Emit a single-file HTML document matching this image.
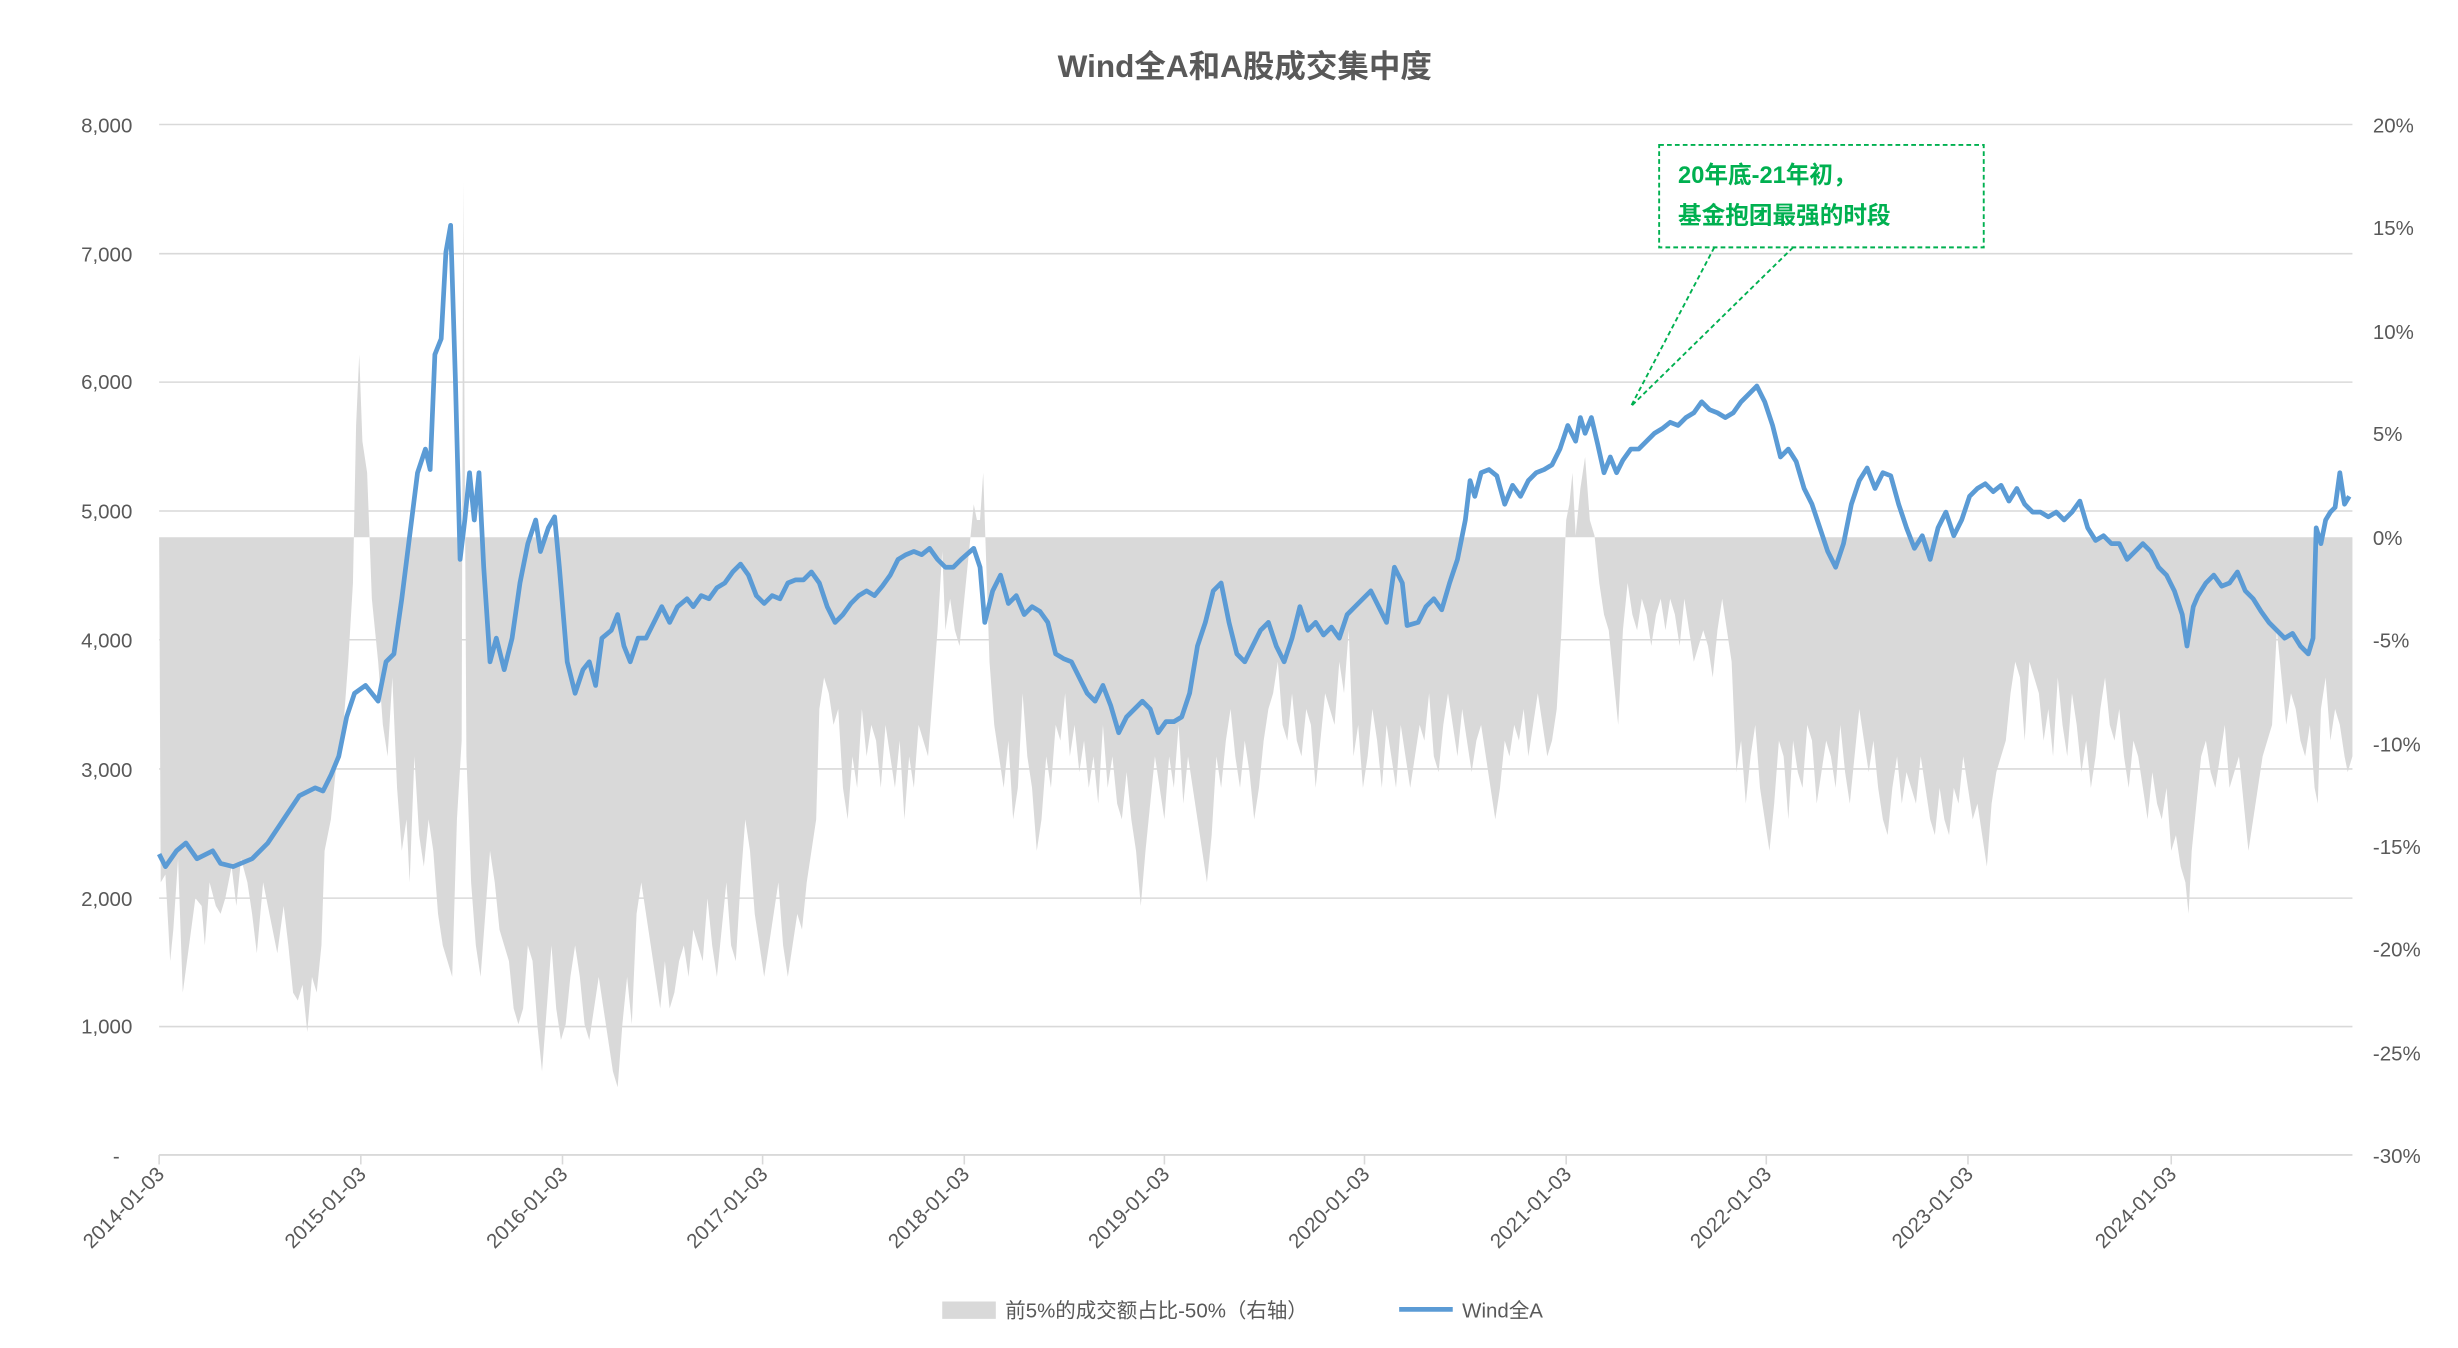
<!DOCTYPE html>
<html><head><meta charset="utf-8"><style>
html,body{margin:0;padding:0;background:#fff;}
svg{display:block;}
text{font-family:"Liberation Sans","Noto Sans CJK SC",sans-serif;}
</style></head><body>
<svg width="2458" height="1348" viewBox="0 0 1560 855.5" preserveAspectRatio="none" xmlns="http://www.w3.org/2000/svg">
<rect width="1560" height="855.5" fill="#fff"/>
<text x="790" y="49" text-anchor="middle" font-size="20" font-weight="bold" fill="#595959">Wind全A和A股成交集中度</text>
<g stroke="#d9d9d9" stroke-width="1">
<line x1="101" x2="1493" y1="79" y2="79"/><line x1="101" x2="1493" y1="161" y2="161"/>
<line x1="101" x2="1493" y1="242.5" y2="242.5"/><line x1="101" x2="1493" y1="324.3" y2="324.3"/>
<line x1="101" x2="1493" y1="406" y2="406"/><line x1="101" x2="1493" y1="488" y2="488"/>
<line x1="101" x2="1493" y1="570" y2="570"/><line x1="101" x2="1493" y1="651.5" y2="651.5"/>
</g>
<polygon fill="#d9d9d9" points="101,341 102,560 105,555 108,610 110,590 113,545 116,630 120,600 124,570 128,575 130,600 133,560 137,575 140,580 143,570 147,550 150,575 153,545 157,560 160,580 163,605 167,560 170,575 173,590 176,605 180,575 183,600 186,630 189,635 192,625 195,655 198,620 201,630 204,600 206,540 210,520 214,480 218,460 221,420 224,370 226,270 228,225 230,280 233,300 236,380 240,420 243,460 246,480 249,430 252,500 255,540 258,520 260,560 263,480 266,530 269,550 272,520 275,540 278,580 281,600 284,610 287,620 290,520 293,470 294,115 296,480 299,560 302,600 305,620 308,580 311,540 314,560 317,590 320,600 323,610 326,640 329,650 332,640 335,600 338,610 341,650 344,680 347,640 350,600 353,640 356,660 359,650 362,620 365,600 368,620 371,650 374,660 377,640 380,620 383,640 386,660 389,680 392,690 395,650 398,620 401,650 404,580 407,560 410,580 413,600 416,620 419,640 422,610 425,640 428,630 431,610 434,600 437,620 440,590 443,600 446,610 449,570 452,600 455,620 458,590 461,560 464,600 467,610 470,560 473,520 476,540 479,580 482,600 485,620 488,600 491,580 494,560 497,600 500,620 503,600 506,580 509,590 512,560 515,540 518,520 520,450 523,430 526,440 529,460 532,450 535,500 538,520 541,480 544,500 547,450 550,480 553,460 556,470 559,500 562,460 565,480 568,500 571,470 574,520 577,480 580,500 583,460 586,470 589,480 592,440 595,400 598,350 600,400 603,380 606,400 609,410 612,380 615,350 618,320 620,330 622,330 624,300 626,360 628,420 631,460 634,480 637,500 640,470 643,520 646,500 649,440 652,480 655,500 658,540 661,520 664,480 667,500 670,460 673,470 676,440 679,480 682,460 685,490 688,470 691,500 694,480 697,510 700,460 703,500 706,480 709,510 712,520 715,490 718,520 721,540 724,575 727,540 730,510 733,480 736,500 739,520 742,480 745,500 748,460 751,510 754,480 757,500 760,520 763,540 766,560 769,530 772,480 775,500 778,470 781,450 784,480 787,500 790,470 793,490 796,520 799,500 802,470 805,450 808,440 811,420 814,460 817,470 820,440 823,470 826,480 829,450 832,460 835,500 838,470 841,440 844,450 847,460 850,420 853,440 856,400 859,480 862,460 865,500 868,480 871,450 874,470 877,500 880,460 883,480 886,500 889,460 892,480 895,500 898,480 901,460 904,470 907,440 910,480 913,490 916,460 919,440 922,460 925,480 928,450 931,470 934,490 937,470 940,460 943,480 946,500 949,520 952,500 955,470 958,480 961,460 964,470 967,450 970,480 973,460 976,440 979,460 982,480 985,470 988,450 991,400 994,330 996,320 998,300 1000,340 1003,310 1006,290 1009,330 1012,340 1015,370 1018,390 1021,400 1024,430 1027,460 1030,400 1033,370 1036,390 1039,400 1042,380 1045,390 1048,410 1051,390 1054,380 1057,400 1060,380 1063,390 1066,410 1069,380 1072,400 1075,420 1078,410 1081,400 1084,410 1087,430 1090,400 1093,380 1096,400 1099,420 1102,490 1105,470 1108,510 1111,480 1114,460 1117,500 1120,520 1123,540 1126,510 1129,470 1132,480 1135,520 1138,470 1141,490 1144,500 1147,460 1150,470 1153,510 1156,490 1159,470 1162,480 1165,500 1168,460 1171,490 1174,510 1177,480 1180,450 1183,470 1186,490 1189,470 1192,500 1195,520 1198,530 1201,500 1204,480 1207,510 1210,490 1213,500 1216,510 1219,480 1222,500 1225,520 1228,530 1231,500 1234,520 1237,530 1240,500 1243,510 1246,480 1249,500 1252,520 1255,510 1258,530 1261,550 1264,510 1267,490 1270,480 1273,470 1276,440 1279,420 1282,430 1285,470 1288,420 1291,430 1294,440 1297,470 1300,450 1303,480 1306,430 1309,460 1312,480 1315,440 1318,460 1321,490 1324,470 1327,500 1330,480 1333,450 1336,430 1339,460 1342,470 1345,450 1348,480 1351,500 1354,470 1357,480 1360,500 1363,520 1366,490 1369,510 1372,520 1375,500 1378,540 1381,530 1384,550 1387,560 1389,580 1391,540 1394,510 1397,480 1400,470 1403,490 1406,500 1409,480 1412,460 1415,500 1418,490 1421,480 1424,510 1427,540 1430,520 1433,500 1436,480 1439,470 1442,460 1445,400 1448,430 1451,460 1454,440 1457,450 1460,470 1463,480 1466,460 1469,500 1471,510 1473,450 1476,430 1479,470 1482,450 1485,460 1488,480 1490,490 1493,480 1493,341"/>
<line x1="101" x2="1493" y1="733" y2="733" stroke="#d9d9d9" stroke-width="1.2"/>
<g stroke="#d9d9d9" stroke-width="1">
<line x1="101" x2="101" y1="733" y2="739"/><line x1="229" x2="229" y1="733" y2="739"/><line x1="357" x2="357" y1="733" y2="739"/><line x1="484" x2="484" y1="733" y2="739"/><line x1="612" x2="612" y1="733" y2="739"/><line x1="739" x2="739" y1="733" y2="739"/><line x1="866" x2="866" y1="733" y2="739"/><line x1="994" x2="994" y1="733" y2="739"/><line x1="1121" x2="1121" y1="733" y2="739"/><line x1="1249" x2="1249" y1="733" y2="739"/><line x1="1378" x2="1378" y1="733" y2="739"/>
</g>
<polyline fill="none" stroke="#5b9bd5" stroke-width="3" stroke-linejoin="round" points="101,542 105,550 112,540 118,535 125,545 135,540 140,548 148,550 160,545 170,535 180,520 190,505 200,500 205,502 210,492 215,480 220,455 225,440 232,435 240,445 245,420 250,415 255,380 260,340 265,300 270,285 273,298 276,225 280,215 283,160 286,143 289,240 292,355 295,330 298,300 301,330 304,300 307,360 311,420 315,405 320,425 325,405 330,370 335,345 340,330 343,350 348,335 352,328 355,360 360,420 365,440 370,425 374,420 378,435 382,405 388,400 392,390 396,410 400,420 405,405 410,405 415,395 420,385 425,395 430,385 436,380 440,385 445,378 450,380 455,373 460,370 465,363 470,358 475,365 480,378 485,383 490,378 495,380 500,370 505,368 510,368 515,363 520,370 525,385 530,395 535,390 540,383 545,378 550,375 555,378 560,372 565,365 570,355 575,352 580,350 585,352 590,348 595,355 600,360 605,360 610,355 618,348 622,360 625,395 630,375 635,365 640,383 645,378 650,390 655,385 660,388 665,395 670,415 675,418 680,420 685,430 690,440 695,445 700,435 705,448 710,465 715,455 720,450 725,445 730,450 735,465 740,458 745,458 750,455 755,440 760,410 765,395 770,375 775,370 780,395 785,415 790,420 795,410 800,400 805,395 810,410 815,420 820,405 825,385 830,400 835,395 840,403 845,398 850,405 855,390 860,385 865,380 870,375 875,385 880,395 885,360 890,370 893,397 900,395 905,385 910,380 915,387 920,370 925,355 930,330 933,305 936,315 940,300 945,298 950,302 955,320 960,308 965,315 970,305 975,300 980,298 985,295 990,285 995,270 1000,280 1003,265 1006,275 1010,265 1014,282 1018,300 1022,290 1026,300 1030,292 1035,285 1040,285 1045,280 1050,275 1055,272 1060,268 1065,270 1070,265 1075,262 1080,255 1085,260 1090,262 1095,265 1100,262 1105,255 1110,250 1115,245 1120,255 1125,270 1130,290 1135,285 1140,293 1145,310 1150,320 1155,335 1160,350 1165,360 1170,345 1175,320 1180,305 1185,297 1190,310 1195,300 1200,302 1205,320 1210,335 1215,348 1220,340 1225,355 1230,335 1235,325 1240,340 1245,330 1250,315 1255,310 1260,307 1265,312 1270,308 1275,318 1280,310 1285,320 1290,325 1295,325 1300,328 1305,325 1310,330 1315,325 1320,318 1325,335 1330,343 1335,340 1340,345 1345,345 1350,355 1355,350 1360,345 1365,350 1370,360 1375,365 1380,375 1385,390 1388,410 1392,385 1395,378 1400,370 1405,365 1410,372 1415,370 1420,363 1425,375 1430,380 1435,388 1440,395 1445,400 1450,405 1455,402 1460,410 1465,415 1468,405 1470,335 1473,345 1476,330 1479,325 1482,322 1485,300 1488,320 1491,315"/>
<g font-size="13" fill="#595959" text-anchor="end">
<text x="84" y="84">8,000</text><text x="84" y="166">7,000</text><text x="84" y="247">6,000</text><text x="84" y="329">5,000</text><text x="84" y="411">4,000</text><text x="84" y="493">3,000</text><text x="84" y="575">2,000</text><text x="84" y="656">1,000</text><text x="76" y="738">-</text>
</g>
<g font-size="13" fill="#595959">
<text x="1506" y="84">20%</text><text x="1506" y="149">15%</text><text x="1506" y="215">10%</text><text x="1506" y="280">5%</text><text x="1506" y="346">0%</text><text x="1506" y="411">-5%</text><text x="1506" y="477">-10%</text><text x="1506" y="542">-15%</text><text x="1506" y="607">-20%</text><text x="1506" y="673">-25%</text><text x="1506" y="738">-30%</text>
</g>
<g font-size="13" fill="#595959" text-anchor="end">
<text transform="translate(105,746) rotate(-45)">2014-01-03</text>
<text transform="translate(233,746) rotate(-45)">2015-01-03</text>
<text transform="translate(361,746) rotate(-45)">2016-01-03</text>
<text transform="translate(488,746) rotate(-45)">2017-01-03</text>
<text transform="translate(616,746) rotate(-45)">2018-01-03</text>
<text transform="translate(743,746) rotate(-45)">2019-01-03</text>
<text transform="translate(870,746) rotate(-45)">2020-01-03</text>
<text transform="translate(998,746) rotate(-45)">2021-01-03</text>
<text transform="translate(1125,746) rotate(-45)">2022-01-03</text>
<text transform="translate(1253,746) rotate(-45)">2023-01-03</text>
<text transform="translate(1382,746) rotate(-45)">2024-01-03</text>
</g>
<rect x="1053" y="92" width="206" height="65" fill="#fff" stroke="#00b050" stroke-width="1.2" stroke-dasharray="3,2"/>
<g stroke="#00b050" stroke-width="1.2" stroke-dasharray="3,2"><line x1="1088" y1="157" x2="1035" y2="258"/><line x1="1138" y1="157" x2="1035" y2="258"/></g>
<g font-size="15" font-weight="bold" fill="#00b050">
<text x="1065" y="116">20年底-21年初，</text><text x="1065" y="142">基金抱团最强的时段</text>
</g>
<rect x="598" y="826" width="34" height="11" fill="#d9d9d9"/>
<text x="638" y="836" font-size="13" fill="#595959">前5%的成交额占比-50%（右轴）</text>
<line x1="888" x2="922" y1="831" y2="831" stroke="#5b9bd5" stroke-width="3"/>
<text x="928" y="836" font-size="13" fill="#595959">Wind全A</text>
</svg>
</body></html>
